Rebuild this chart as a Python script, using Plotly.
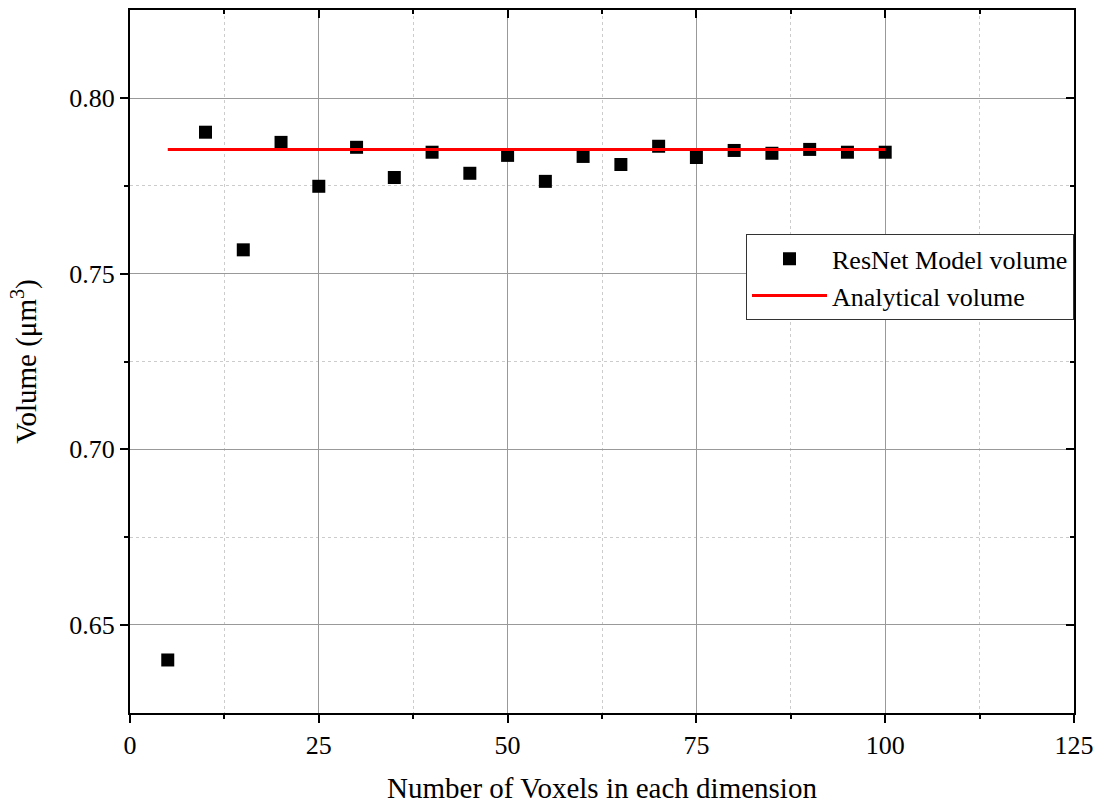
import plotly.graph_objects as go

voxels = [5, 10, 15, 20, 25, 30, 35, 40, 45, 50, 55, 60, 65, 70, 75, 80, 85, 90, 95, 100]
resnet_volume = [0.6400, 0.7903, 0.7568, 0.7874, 0.7749, 0.7860, 0.7774, 0.7846, 0.7786, 0.7837,
                 0.7763, 0.7834, 0.7811, 0.7863, 0.7831, 0.7851, 0.7843, 0.7854, 0.7846, 0.7846]
analytical_x = [5, 100]
analytical_volume = [0.7854, 0.7854]

x_major = [0, 25, 50, 75, 100, 125]
x_minor = [12.5, 37.5, 62.5, 87.5, 112.5]
y_major = [0.65, 0.70, 0.75, 0.80]
y_major_text = ["0.65", "0.70", "0.75", "0.80"]
y_minor = [0.675, 0.725, 0.775]

FONT = "Liberation Serif, Times New Roman, serif"

fig = go.Figure()
fig.add_trace(go.Scatter(x=voxels, y=resnet_volume, mode="markers", name="ResNet Model volume",
                         marker=dict(symbol="square", size=13, color="black")))
fig.add_trace(go.Scatter(x=analytical_x, y=analytical_volume, mode="lines", name="Analytical volume",
                         line=dict(color="#ff0000", width=3)))
# invisible trace to drive mirrored (top/right) axes
fig.add_trace(go.Scatter(x=[None], y=[None], xaxis="x2", yaxis="y2", showlegend=False, hoverinfo="skip"))

xr = [0, 125]
yr = [0.6249, 0.8251]

fig.update_layout(
    width=1096, height=808,
    margin=dict(l=130, r=22, t=10, b=95, autoexpand=False),
    plot_bgcolor="white", paper_bgcolor="white",
    font=dict(family=FONT, size=26, color="black"),
    xaxis=dict(range=xr, tickvals=x_major, ticks="outside", ticklen=8, tickwidth=2, automargin=False,
               tickcolor="black", showline=True, linecolor="black", linewidth=2,
               showgrid=True, gridcolor="#999999", gridwidth=1, zeroline=False,
               minor=dict(tickvals=x_minor, ticks="outside", ticklen=4, tickwidth=2,
                          tickcolor="black", showgrid=True, gridcolor="#cccccc", griddash="3px,3px", gridwidth=1),
               title=dict(text="Number of Voxels in each dimension", font=dict(size=29), standoff=18),
               tickfont=dict(size=26)),
    yaxis=dict(range=yr, tickvals=y_major, ticktext=y_major_text, automargin=False,
               ticks="outside", ticklen=8, tickwidth=2, tickcolor="black",
               showline=True, linecolor="black", linewidth=2,
               showgrid=True, gridcolor="#999999", gridwidth=1, zeroline=False,
               minor=dict(tickvals=y_minor, ticks="outside", ticklen=4, tickwidth=2,
                          tickcolor="black", showgrid=True, gridcolor="#cccccc", griddash="3px,3px", gridwidth=1),
               title=dict(text="Volume (μm<sup>3</sup>)", font=dict(size=29), standoff=24),
               tickfont=dict(size=26)),
    xaxis2=dict(range=xr, overlaying="x", side="top", tickvals=x_major, ticks="inside", automargin=False,
                ticklen=8, tickwidth=2, tickcolor="black", showticklabels=False, showline=True,
                linecolor="black", linewidth=2, showgrid=False, zeroline=False,
                minor=dict(tickvals=x_minor, ticks="inside", ticklen=4, tickwidth=2,
                           tickcolor="black", showgrid=False)),
    yaxis2=dict(range=yr, overlaying="y", side="right", tickvals=y_major, ticks="inside", automargin=False,
                ticklen=8, tickwidth=2, tickcolor="black", showticklabels=False, showline=True,
                linecolor="black", linewidth=2, showgrid=False, zeroline=False,
                minor=dict(tickvals=y_minor, ticks="inside", ticklen=4, tickwidth=2,
                           tickcolor="black", showgrid=False)),
    legend=dict(x=1.0, y=0.681, xanchor="right", yanchor="top", bordercolor="#333333", borderwidth=1,
                bgcolor="white", font=dict(size=26), tracegroupgap=0, itemwidth=75),
    showlegend=True,
)

fig.write_html("out.html", config={"displayModeBar": False},
               post_script="document.body.style.margin='0px';")
